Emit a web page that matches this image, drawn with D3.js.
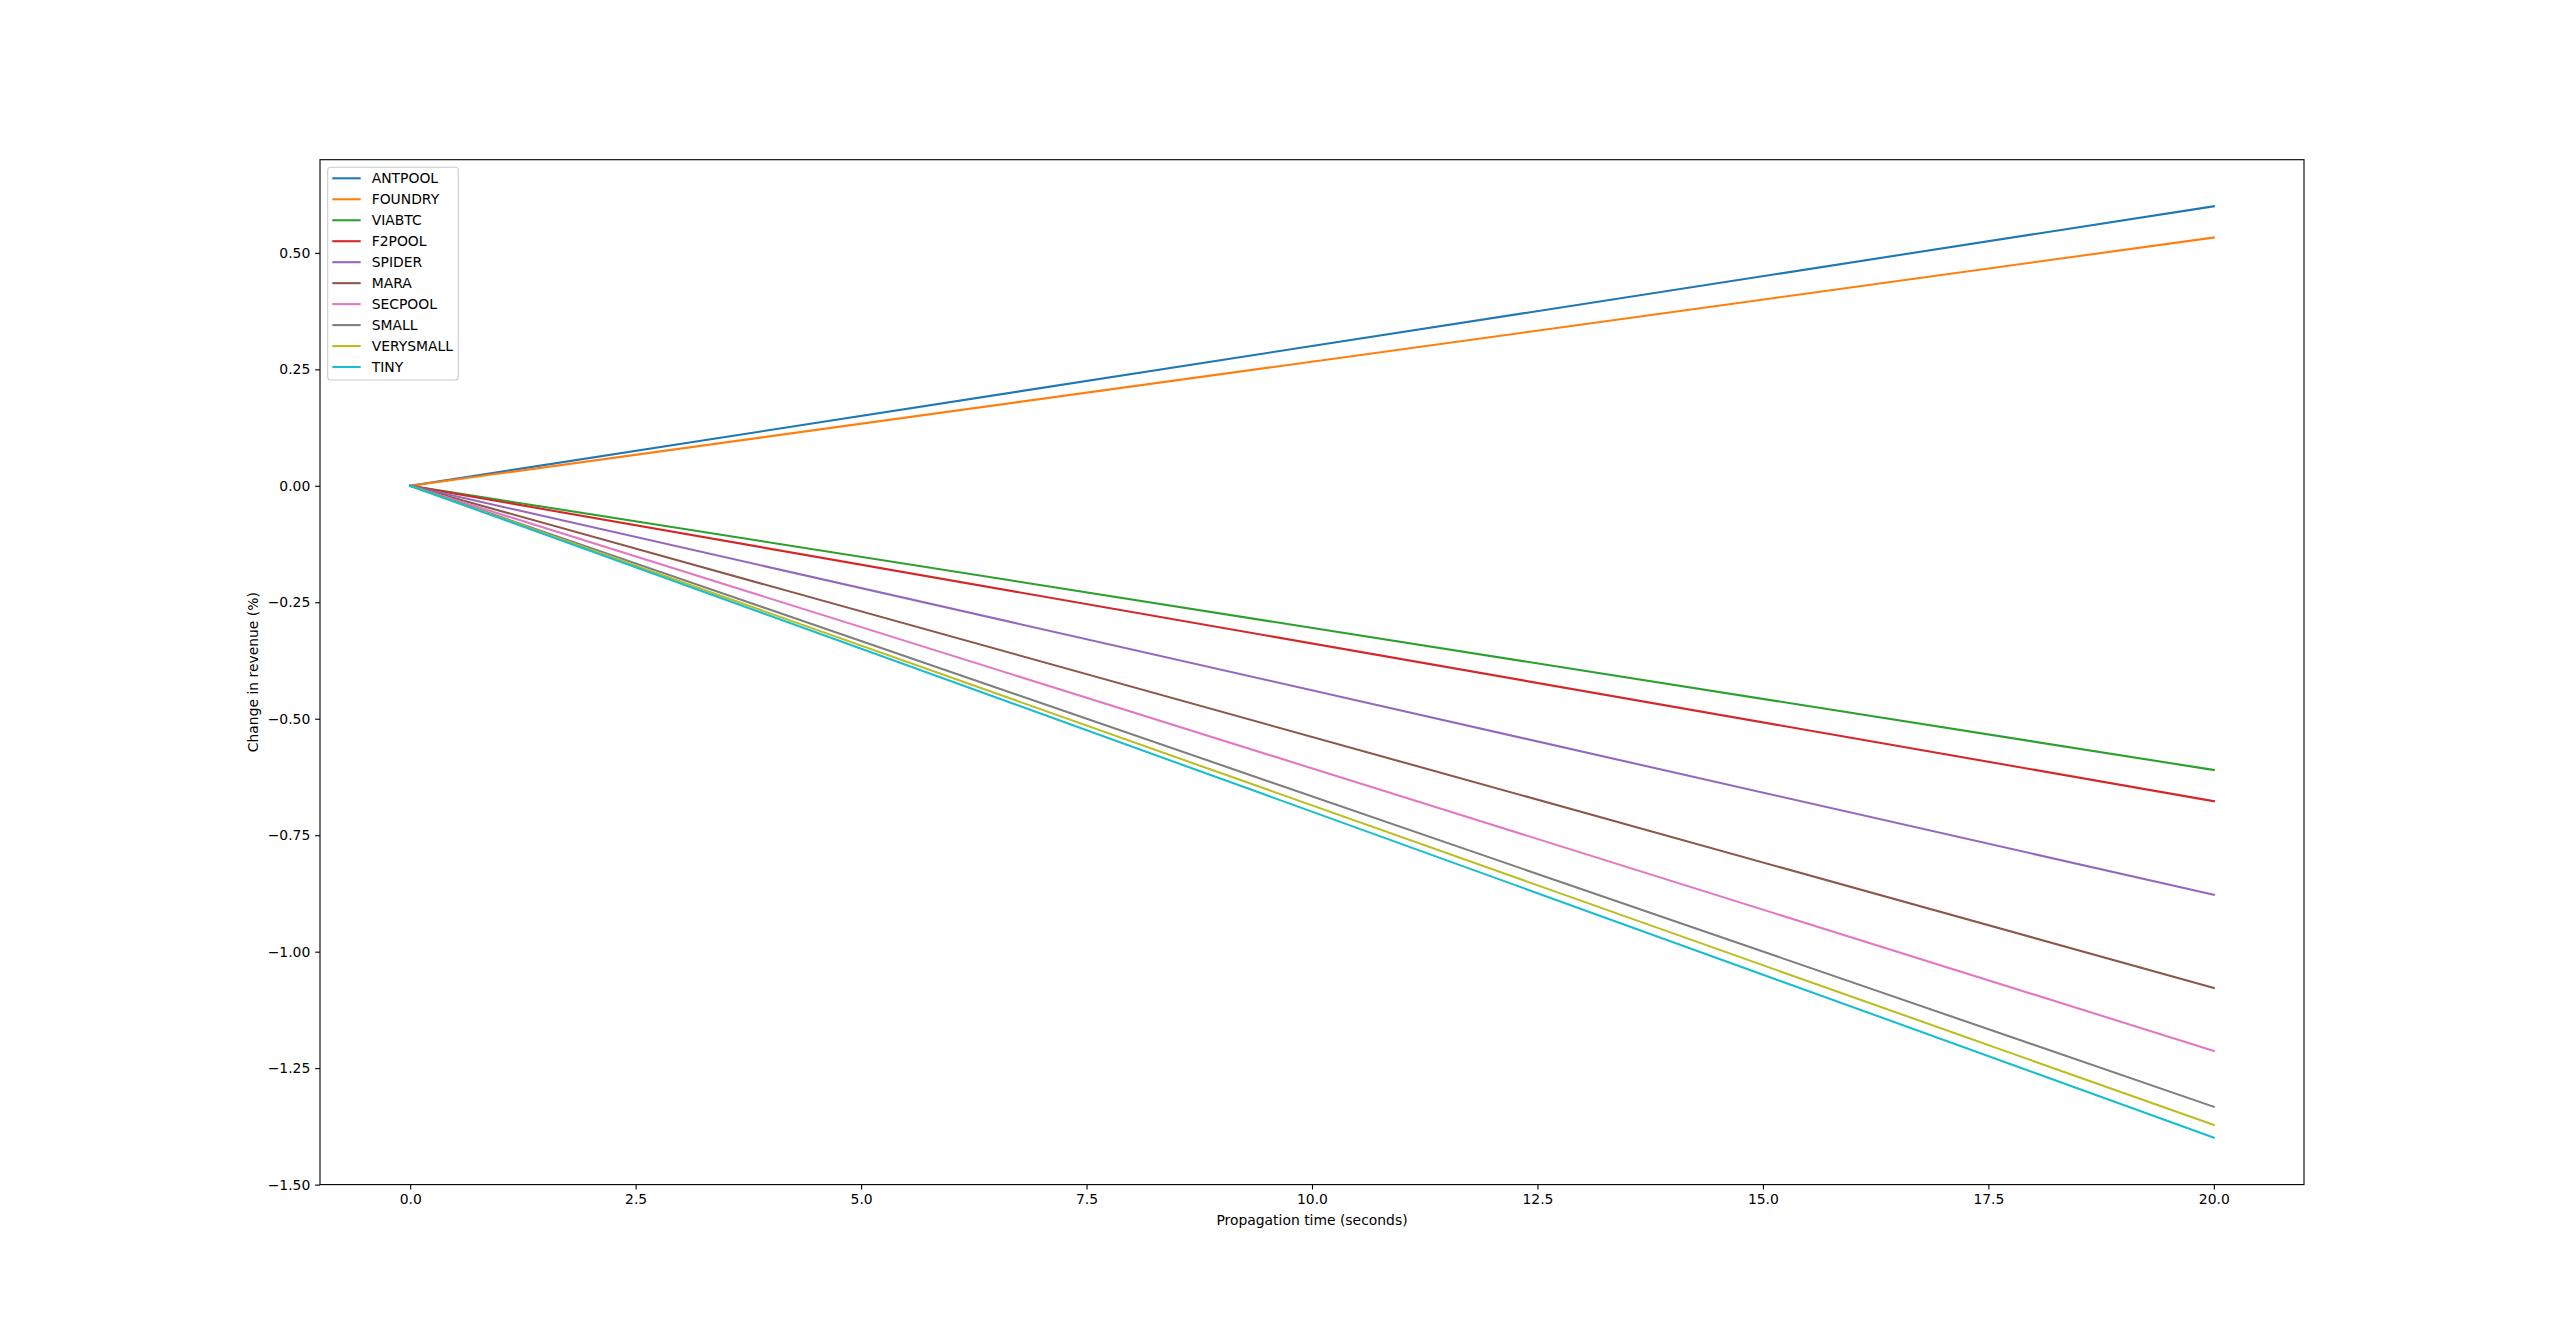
<!DOCTYPE html>
<html>
<head>
<meta charset="utf-8">
<script src="https://cdn.jsdelivr.net/npm/d3@7"></script>
<style>
  html, body { margin: 0; padding: 0; background: #fff; }
  svg { display: block; font-family: "DejaVu Sans", sans-serif; }
</style>
</head>
<body>
<svg id="chart" width="2560" height="1331"></svg>
<script>
// ---- Data ----
const propagationTimes = [0, 20];
const seriesNames = ["ANTPOOL", "FOUNDRY", "VIABTC", "F2POOL", "SPIDER", "MARA", "SECPOOL", "SMALL", "VERYSMALL", "TINY"];
const antpool   = [0, 0.600];
const foundry   = [0, 0.533];
const viabtc    = [0, -0.610];
const f2pool    = [0, -0.677];
const spider    = [0, -0.878];
const mara      = [0, -1.078];
const secpool   = [0, -1.213];
const small     = [0, -1.333];
const verysmall = [0, -1.372];
const tiny      = [0, -1.399];
const seriesValues = [antpool, foundry, viabtc, f2pool, spider, mara, secpool, small, verysmall, tiny];
const seriesColors = ["#1f77b4", "#ff7f0e", "#2ca02c", "#d62728", "#9467bd", "#8c564b", "#e377c2", "#7f7f7f", "#bcbd22", "#17becf"];
const xTicks = [0, 2.5, 5, 7.5, 10, 12.5, 15, 17.5, 20];
const yTicks = [-1.5, -1.25, -1.0, -0.75, -0.5, -0.25, 0, 0.25, 0.5];
const xLabel = "Propagation time (seconds)";
const yLabel = "Change in revenue (%)";

// ---- Layout ----
const plotLeft = 320, plotRight = 2304, plotTop = 159.7, plotBottom = 1184.6;
const svg = d3.select("#chart");

const x = d3.scaleLinear().domain([-1, 21]).range([plotLeft, plotRight]);
const y = d3.scaleLinear().domain([-1.5, 0.7]).range([plotBottom, plotTop]);

const fmtMinus = s => s.replace("-", "\u2212");

// Lines
const line = d3.line().x((d, i) => x(propagationTimes[i])).y(d => y(d));
const plot = svg.append("g");
seriesValues.forEach((vals, i) => {
  plot.append("path")
    .datum(vals)
    .attr("d", line)
    .attr("fill", "none")
    .attr("stroke", seriesColors[i])
    .attr("stroke-width", 2.08)
    .attr("stroke-linecap", "square");
});

// Axes
const xAxis = d3.axisBottom(x).tickValues(xTicks).tickFormat(d => d3.format(".1f")(d))
  .tickSizeInner(4.86).tickSizeOuter(0).tickPadding(4.86);
const yAxis = d3.axisLeft(y).tickValues(yTicks).tickFormat(d => fmtMinus(d3.format(".2f")(d)))
  .tickSizeInner(4.86).tickSizeOuter(0).tickPadding(4.86);

const gx = svg.append("g").attr("transform", `translate(0,${plotBottom})`).call(xAxis);
const gy = svg.append("g").attr("transform", `translate(${plotLeft},0)`).call(yAxis);
[gx, gy].forEach(g => {
  g.select(".domain").remove();
  g.selectAll(".tick line").attr("stroke", "#000").attr("stroke-width", 1.11);
  g.selectAll(".tick text").attr("fill", "#000").style("font-size", "13.9px").style("font-family", "DejaVu Sans");
});

// Spines
svg.append("rect")
  .attr("x", plotLeft).attr("y", plotTop)
  .attr("width", plotRight - plotLeft).attr("height", plotBottom - plotTop)
  .attr("fill", "none").attr("stroke", "#000").attr("stroke-width", 1.11);

// Axis labels
svg.append("text")
  .attr("x", (plotLeft + plotRight) / 2).attr("y", 1224.5)
  .attr("text-anchor", "middle")
  .style("font-size", "13.9px")
  .text(xLabel);
svg.append("text")
  .attr("transform", `translate(258,${(plotTop + plotBottom) / 2}) rotate(-90)`)
  .attr("text-anchor", "middle")
  .style("font-size", "13.9px")
  .text(yLabel);

// Legend
const lg = svg.append("g");
lg.append("rect")
  .attr("x", 327.7).attr("y", 167.3)
  .attr("width", 130.6).attr("height", 212.7)
  .attr("rx", 3).attr("ry", 3)
  .attr("fill", "#fff").attr("fill-opacity", 0.8)
  .attr("stroke", "#cccccc").attr("stroke-width", 1.11);
seriesNames.forEach((name, i) => {
  const cy = 178.3 + i * 20.97;
  lg.append("line")
    .attr("x1", 332.3).attr("x2", 360.7).attr("y1", cy).attr("y2", cy)
    .attr("stroke", seriesColors[i]).attr("stroke-width", 2.08);
  lg.append("text")
    .attr("x", 371.7).attr("y", cy)
    .attr("dy", "0.35em")
    .style("font-size", "13.9px")
    .text(name);
});
</script>
</body>
</html>
